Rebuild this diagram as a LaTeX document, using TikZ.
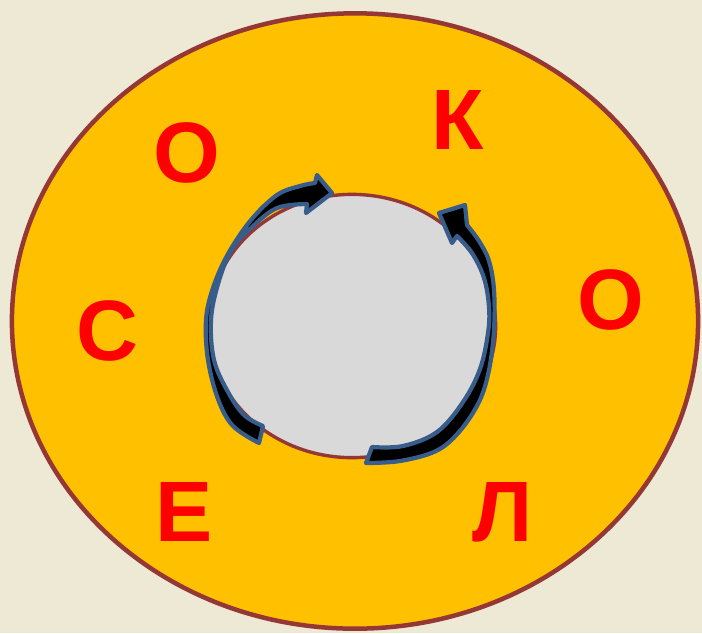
\documentclass[tikz,border=0pt]{standalone}
\usepackage{fontspec}
\setmainfont{Liberation Sans}
\usetikzlibrary{shapes.geometric}
\definecolor{sokPaper}{RGB}{237,233,212}
\definecolor{sokGold}{RGB}{255,192,0}
\definecolor{sokRim}{RGB}{149,55,53}
\definecolor{sokCore}{RGB}{217,217,217}
\definecolor{sokBlue}{RGB}{56,93,138}
\definecolor{sokRed}{RGB}{255,0,0}
\tikzset{
  sletter/.style={font=\bfseries\fontsize{61}{61}\selectfont,
    text=sokRed, inner sep=0pt, anchor=base},
  sring/.style={ellipse, draw=sokRim, fill=sokGold, line width=3.2pt,
    inner sep=0pt, minimum width=17.15cm, minimum height=15.38cm},
  score/.style={ellipse, draw=sokRim, fill=sokCore, line width=2.4pt,
    inner sep=0pt, minimum width=7.18cm, minimum height=6.58cm},
  sarrow/.style={draw=sokBlue, fill=black, line width=3pt,
    line join=round}
}
\begin{document}
\begin{tikzpicture}[x=0.025cm, y=-0.025cm]
\fill[sokPaper] (0,0) rectangle (702,633);
\useasboundingbox (0,0) rectangle (702,633);

\node[sring] (ring) at (355,321) {};
\node[score] (core) at (352,326) {};

% left arrow, tail at bottom, head at top
\path[sarrow] plot[smooth, tension=.6] coordinates {
    (259,443) (233,426) (218,399) (208,360) (206,320) (213,288)
    (228,254) (251,220) (277,195) (300,186) (315,183)}
  -- (317,175) -- (332,193) -- (306,213) -- (307,204)
  -- plot[smooth, tension=.6] coordinates {
    (307,204) (277,208) (251,228) (231,251) (218,284) (211,320)
    (214,360) (228,392) (244,415) (263,426)}
  -- cycle;

% right arrow, tail at bottom, head at top
\path[sarrow] plot[smooth, tension=.6] coordinates {
    (366,463) (400,461) (436,451) (459,432) (479,402) (489,370)
    (494,330) (494,290) (489,261) (479,241) (467,225)}
  -- (465,205) -- (439,213) -- (452,243) -- (457,236)
  -- plot[smooth, tension=.6] coordinates {
    (457,236) (472,253) (484,278) (489,307) (488,333) (480,369)
    (463,402) (437,432) (403,446) (372,447)}
  -- cycle;

\node[sletter] (o1) at (187,182) {О};
\node[sletter] (k) at (458,149) {К};
\node[sletter] (o2) at (611,329) {О};
\node[sletter] (s) at (107,360) {С};
\node[sletter] (e) at (184,541) {Е};
\node[sletter] (l) at (503,541) {Л};
\end{tikzpicture}
\end{document}
